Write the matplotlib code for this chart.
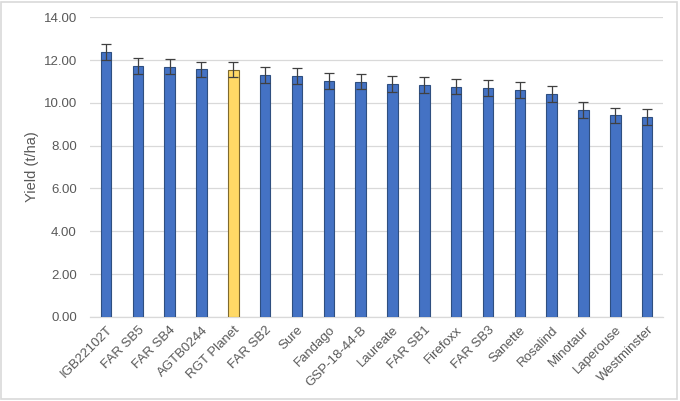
import matplotlib.pyplot as plt
import numpy as np
from matplotlib.patches import Rectangle

varieties = [
    "IGB22102T", "FAR SB5", "FAR SB4", "AGTB0244", "RGT Planet", "FAR SB2",
    "Sure", "Fandago", "GSP-18-44-B", "Laureate", "FAR SB1", "Firefoxx",
    "FAR SB3", "Sanette", "Rosalind", "Minotaur", "Laperouse", "Westminster",
]
yield_t_ha = [
    12.36, 11.74, 11.68, 11.57, 11.55, 11.32, 11.26, 11.02, 10.99,
    10.90, 10.84, 10.76, 10.68, 10.62, 10.42, 9.67, 9.43, 9.34,
]
error = [
    0.37, 0.37, 0.35, 0.36, 0.36, 0.37, 0.37, 0.38, 0.36,
    0.37, 0.37, 0.36, 0.38, 0.37, 0.36, 0.36, 0.35, 0.36,
]
highlight = "RGT Planet"

text_color = "#595959"
plt.rcParams["font.family"] = ["Liberation Sans", "DejaVu Sans"]

fig = plt.figure(figsize=(6.8, 4.01), dpi=100)
fig.patches.append(Rectangle((0.002, 0.004), 0.994, 0.992, transform=fig.transFigure,
                             fill=False, edgecolor="#D9D9D9", linewidth=1.2))
ax = fig.add_axes([0.1324, 0.2097, 0.8426, 0.7472])

x = np.arange(len(varieties))
colors = ["#FFD966" if v == highlight else "#4472C4" for v in varieties]
edges = ["#7F6A2E" if v == highlight else "#2F4F80" for v in varieties]
ax.bar(x, yield_t_ha, width=0.33, color=colors, edgecolor=edges, linewidth=0.8, zorder=3)
ax.errorbar(x, yield_t_ha, yerr=error, fmt="none", ecolor="#404040", elinewidth=0.9,
            capsize=3.5, capthick=0.9, zorder=4)

ax.set_xlim(-0.5, len(varieties) - 0.5)
ax.set_ylim(0, 14)
ax.set_yticks(np.arange(0, 14.01, 2))
ax.set_yticklabels([f"{t:.2f}" for t in np.arange(0, 14.01, 2)])
ax.set_xticks(x)
ax.set_xticklabels(varieties, rotation=45, ha="right", va="top", rotation_mode="anchor")
ax.tick_params(axis="both", length=0, colors=text_color, labelsize=9.5)
ax.tick_params(axis="y", pad=9.5)
ax.tick_params(axis="x", pad=5)
ax.grid(axis="y", color="#D9D9D9", linewidth=0.9, zorder=0)
for side in ["top", "right", "left"]:
    ax.spines[side].set_visible(False)
ax.spines["bottom"].set_color("#D9D9D9")
ax.spines["bottom"].set_linewidth(0.9)
ax.set_ylabel("Yield (t/ha)", color=text_color, fontsize=10.5, labelpad=3)

fig.savefig("out.png", dpi=100)
